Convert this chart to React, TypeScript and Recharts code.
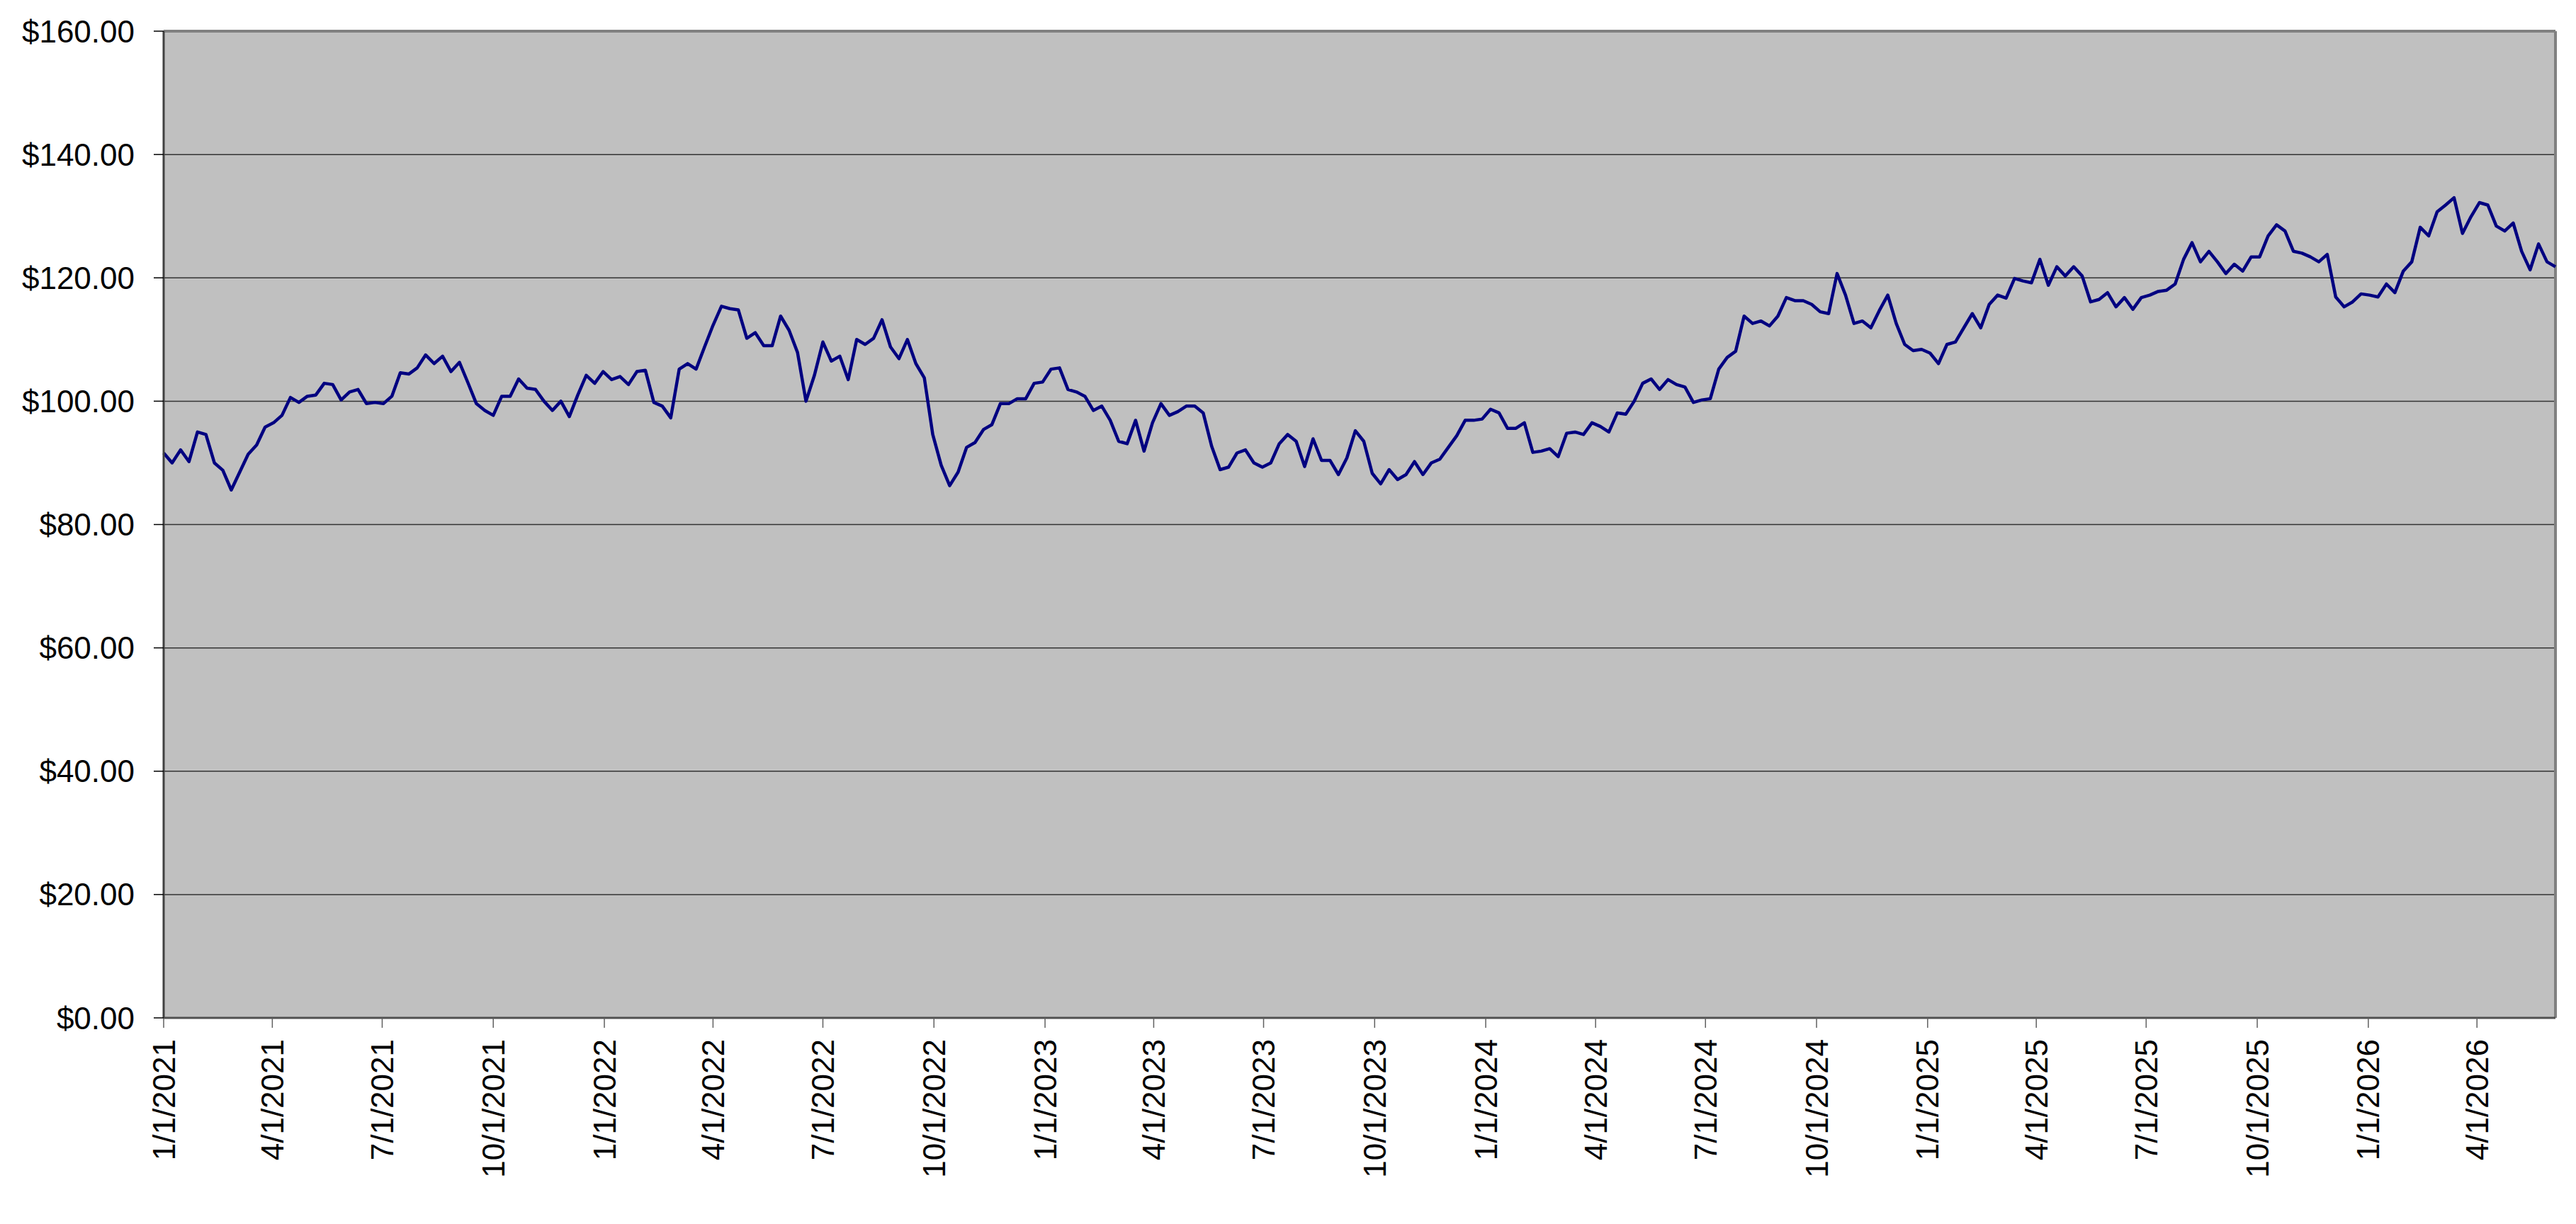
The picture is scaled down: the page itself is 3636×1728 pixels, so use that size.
import { LineChart, Line, XAxis, YAxis, CartesianGrid, ReferenceLine } from 'recharts';

// weekly closes, first value is the week of 1/1/2021
const START_DATE = '2021-01-01';
const DAY_MS = 86400000;

const WEEKLY_2021 = [
  91.6, 90.0, 92.1, 90.2, 95.0, 94.6, 90.0, 88.8, 85.6, 88.5,
  91.4, 92.9, 95.8, 96.5, 97.7, 100.6, 99.8, 100.8, 101.0, 102.9,
  102.7, 100.2, 101.5, 101.9, 99.6, 99.8, 99.6, 100.8, 104.6, 104.4,
  105.4, 107.5, 106.1, 107.3, 104.8, 106.3, 103.0, 99.6, 98.5, 97.7,
  100.8, 100.8, 103.6, 102.1, 101.9, 100.0, 98.5, 100.0, 97.5, 101.0,
  104.2, 102.9, 104.8,
];
const WEEKLY_2022 = [
  103.5, 104.0, 102.7, 104.8, 105.0, 99.8, 99.2,
  97.3, 105.2, 106.1, 105.2, 108.8, 112.3, 115.4, 115.0, 114.8, 110.2,
  111.1, 109.0, 109.0, 113.8, 111.5, 107.9, 100.0, 104.2, 109.6, 106.5,
  107.3, 103.5, 110.0, 109.2, 110.2, 113.2, 108.8, 106.9, 110.0, 106.1,
  103.8, 94.6, 89.6, 86.3, 88.5, 92.5, 93.3, 95.4, 96.2, 99.6,
  99.6, 100.4, 100.4, 102.9, 103.1,
];
const WEEKLY_2023 = [
  105.2, 105.4, 101.9, 101.5, 100.8,
  98.5, 99.2, 96.9, 93.5, 93.1, 96.9, 91.9, 96.5, 99.6, 97.7,
  98.3, 99.2, 99.2, 98.1, 92.7, 88.9, 89.3, 91.6, 92.1, 90.0,
  89.3, 90.0, 93.1, 94.6, 93.5, 89.4, 93.9, 90.4, 90.4, 88.1,
  90.8, 95.2, 93.5, 88.3, 86.6, 88.9, 87.3, 88.1, 90.2, 88.1,
  90.0, 90.6, 92.5, 94.4, 96.9, 96.9, 97.1,
];
const WEEKLY_2024 = [
  98.7, 98.1, 95.6,
  95.6, 96.5, 91.7, 91.9, 92.3, 91.0, 94.8, 95.0, 94.6, 96.5,
  95.9, 95.0, 98.1, 97.9, 100.0, 102.9, 103.6, 101.9, 103.5, 102.7,
  102.3, 99.8, 100.2, 100.4, 105.2, 107.1, 108.1, 113.8, 112.6, 113.0,
  112.2, 113.8, 116.8, 116.3, 116.3, 115.7, 114.5, 114.2, 120.7, 117.2,
  112.6, 113.0, 111.9, 114.7, 117.2, 112.6, 109.2, 108.2, 108.4,
];
const WEEKLY_2025 = [
  107.8,
  106.1, 109.2, 109.6, 111.9, 114.2, 111.9, 115.7, 117.2, 116.7, 119.9,
  119.5, 119.2, 123.0, 118.8, 121.8, 120.3, 121.8, 120.3, 116.1, 116.5,
  117.6, 115.3, 116.8, 114.9, 116.8, 117.2, 117.8, 118.0, 119.0, 123.0,
  125.7, 122.6, 124.3, 122.6, 120.7, 122.2, 121.1, 123.4, 123.4, 126.8,
  128.6, 127.6, 124.3, 124.0, 123.4, 122.6, 123.8, 116.9, 115.3, 116.1,
  117.4,
];
const WEEKLY_2026 = [
  117.2, 116.9, 119.0, 117.6, 121.1, 122.6, 128.2, 126.8, 130.7,
  131.8, 133.0, 127.2, 129.9, 132.2, 131.8, 128.4, 127.6, 128.9, 124.3,
  121.3, 125.5, 122.6, 121.8,
];

const PRICES = [
  ...WEEKLY_2021,
  ...WEEKLY_2022,
  ...WEEKLY_2023,
  ...WEEKLY_2024,
  ...WEEKLY_2025,
  ...WEEKLY_2026,
];

const X_TICKS = [
  '2021-01-01', '2021-04-01', '2021-07-01', '2021-10-01',
  '2022-01-01', '2022-04-01', '2022-07-01', '2022-10-01',
  '2023-01-01', '2023-04-01', '2023-07-01', '2023-10-01',
  '2024-01-01', '2024-04-01', '2024-07-01', '2024-10-01',
  '2025-01-01', '2025-04-01', '2025-07-01', '2025-10-01',
  '2026-01-01', '2026-04-01',
];

const Y_TICKS = [0, 20, 40, 60, 80, 100, 120, 140, 160];

const FONT = '"Liberation Sans", Arial, sans-serif';

const startMs = Date.parse(START_DATE + 'T00:00:00Z');
const data = PRICES.map((price, i) => ({ t: startMs + i * 7 * DAY_MS, price }));
const lastT = data[data.length - 1].t;
const xTicks = X_TICKS.map((d) => Date.parse(d + 'T00:00:00Z'));

function fmtDate(t: number) {
  const d = new Date(t);
  return `${d.getUTCMonth() + 1}/${d.getUTCDate()}/${d.getUTCFullYear()}`;
}

function DateTick({ x, y, payload }: any) {
  return (
    <text
      x={x}
      y={y}
      transform={`rotate(-90 ${x} ${y})`}
      textAnchor="end"
      dominantBaseline="central"
      fontFamily={FONT}
      fontSize={44}
      fill="#000"
    >
      {fmtDate(payload.value)}
    </text>
  );
}

export default function App() {
  return (
    <div style={{ width: 3620, height: 1700, fontFamily: FONT }}>
      <LineChart width={3620} height={1700} data={data} margin={{ top: 36, right: 21, bottom: 0, left: 0 }}>
        <CartesianGrid vertical={false} stroke="#333" strokeWidth={1.5} fill="#C0C0C0" />
        <XAxis
          dataKey="t"
          type="number"
          domain={[startMs, lastT]}
          ticks={xTicks}
          tick={<DateTick />}
          tickSize={14}
          tickMargin={16}
          height={271}
          interval={0}
          axisLine={{ stroke: '#505050', strokeWidth: 3 }}
          tickLine={{ stroke: '#606060', strokeWidth: 1.5 }}
        />
        <YAxis
          domain={[0, 160]}
          ticks={Y_TICKS}
          interval={0}
          width={223}
          tickSize={14}
          tickMargin={27}
          tickFormatter={(v: number) => `$${v.toFixed(2)}`}
          tick={{ fill: '#000', fontSize: 44, fontFamily: FONT }}
          axisLine={{ stroke: '#404040', strokeWidth: 3 }}
          tickLine={{ stroke: '#000', strokeWidth: 1.5 }}
        />
        <ReferenceLine y={160} stroke="#808080" strokeWidth={4} />
        <ReferenceLine x={lastT} stroke="#808080" strokeWidth={4} />
        <Line
          dataKey="price"
          type="linear"
          stroke="#000080"
          strokeWidth={4.5}
          strokeLinejoin="round"
          dot={false}
          isAnimationActive={false}
        />
      </LineChart>
    </div>
  );
}
